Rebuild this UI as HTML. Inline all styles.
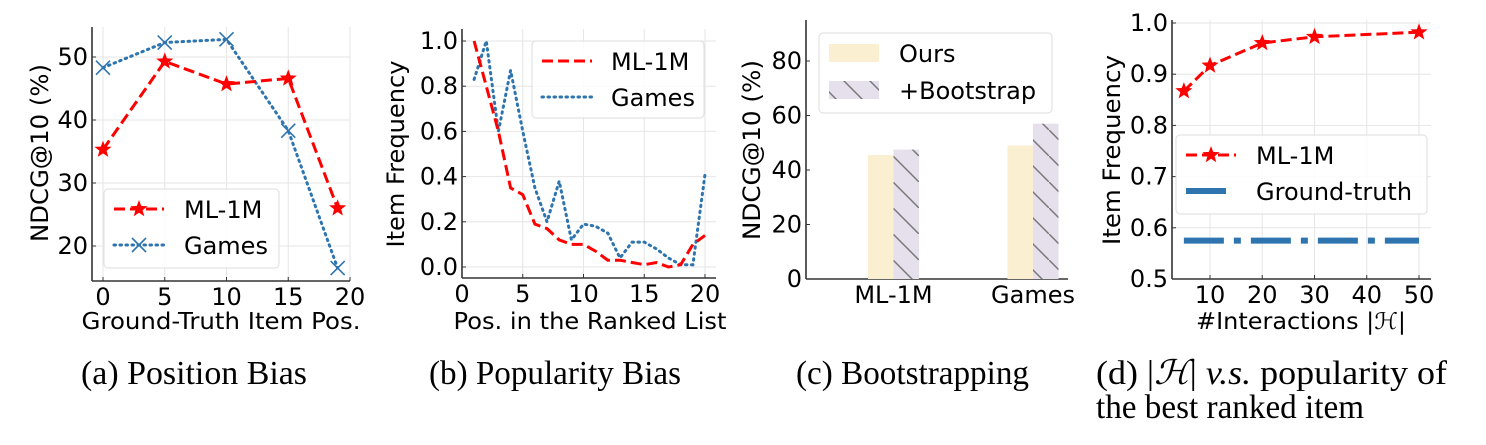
<!DOCTYPE html>
<html><head><meta charset="utf-8"><style>
html,body{margin:0;padding:0;background:#fff;}
svg{display:block;font-family:"DejaVu Sans","Liberation Sans",sans-serif;}
.cap{font-family:"Liberation Serif",serif;font-size:34px;fill:#000;}
</style></head><body>
<svg id="fig" width="1486" height="445" viewBox="0 0 1486 445" xmlns="http://www.w3.org/2000/svg">
<defs>
<pattern id="hatch" patternUnits="userSpaceOnUse" width="26" height="26" patternTransform="translate(893,0)">
<rect width="26" height="26" fill="#e6e0ec"/>
<line x1="0" y1="0" x2="26" y2="26" stroke="#777" stroke-width="1.5"/>
</pattern>
</defs>
<g id="root"></g>
<text class="cap" x="81" y="384" textLength="226" lengthAdjust="spacingAndGlyphs">(a) Position Bias</text>
<text class="cap" x="429" y="384" textLength="252" lengthAdjust="spacingAndGlyphs">(b) Popularity Bias</text>
<text class="cap" x="796" y="384" textLength="233" lengthAdjust="spacingAndGlyphs">(c) Bootstrapping</text>
<text class="cap" x="1096" y="384" textLength="351" lengthAdjust="spacingAndGlyphs">(d) |<tspan font-style="italic">ℋ</tspan>| <tspan font-style="italic">v.s.</tspan>  popularity of</text>
<text class="cap" x="1096" y="418" textLength="268" lengthAdjust="spacingAndGlyphs">the best ranked item</text>
</svg>
<script>
// ---- data ----
const aX = [0,5,10,15,19];
const aML = [35.3,49.3,45.7,46.6,26.0];
const aGames = [48.3,52.3,52.8,38.3,16.5];
const aXTicks = [0,5,10,15,20];
const aYTicks = [20,30,40,50];

const bX = [1,2,3,4,5,6,7,8,9,10,11,12,13,14,15,16,17,18,19,20];
const bML = [1.0,0.8,0.6,0.35,0.32,0.19,0.17,0.12,0.10,0.10,0.07,0.03,0.03,0.02,0.01,0.02,0.0,0.01,0.10,0.14];
const bGames = [0.83,1.0,0.6,0.87,0.6,0.35,0.2,0.38,0.12,0.19,0.18,0.15,0.04,0.11,0.11,0.08,0.04,0.01,0.01,0.41];
const bXTicks = [0,5,10,15,20];
const bYTicks = [0.0,0.2,0.4,0.6,0.8,1.0];

const cCats = ["ML-1M","Games"];
const cOurs = [45.5,49.0];
const cBoot = [47.5,57.0];
const cYTicks = [0,20,40,60,80];

const dX = [5,10,20,30,50];
const dML = [0.867,0.917,0.961,0.973,0.982];
const dGT = 0.575;
const dXTicks = [10,20,30,40,50];
const dYTicks = [0.5,0.6,0.7,0.8,0.9,1.0];

const NS="http://www.w3.org/2000/svg";
const root=document.getElementById('root');
function el(tag,attrs,parent,text){const e=document.createElementNS(NS,tag);for(const k in attrs)e.setAttribute(k,attrs[k]);if(text!==undefined)e.textContent=text;(parent||root).appendChild(e);return e;}
function lin(d0,d1,p0,p1){return v=>p0+(v-d0)*(p1-p0)/(d1-d0);}
function star(cx,cy,r){let p=[];for(let i=0;i<10;i++){const rr=i%2?r*0.42:r;const a=-Math.PI/2+i*Math.PI/5;p.push((cx+rr*Math.cos(a)).toFixed(1)+","+(cy+rr*Math.sin(a)).toFixed(1));}return p.join(" ");}
const RED="#ff0000", BLUE="#2e75b0";

function axes(g,L,R,T,B){
  const a=el('line',{x1:L,y1:T,x2:L,y2:B,stroke:'#333','stroke-width':1.6},g);
  
  
  const b=el('line',{x1:L,y1:B,x2:R,y2:B,stroke:'#333','stroke-width':1.6},g);
  
  
}
function gridV(g,x,T,B){const l=el('line',{x1:x,y1:T,x2:x,y2:B,stroke:'#e6e6e6','stroke-width':1},g);}
function gridH(g,y,L,R){const l=el('line',{x1:L,y1:y,x2:R,y2:y,stroke:'#e6e6e6','stroke-width':1},g);}
function xtick(g,x,B,label){el('line',{x1:x,y1:B,x2:x,y2:B-4,stroke:'#333','stroke-width':1},g);const t=el('text',{x:x,y:B+24,'text-anchor':'middle','font-size':24},g,label);}
function ytick(g,y,L,label){el('line',{x1:L,y1:y,x2:L+4,y2:y,stroke:'#333','stroke-width':1},g);const t=el('text',{x:L-4,y:y+8,'text-anchor':'end','font-size':24},g,label);}
function ylabel(g,x,cy,txt,len){const t=el('text',{x:0,y:0,transform:`translate(${x},${cy}) rotate(-90)`,'text-anchor':'middle','font-size':24,textLength:len,lengthAdjust:'spacingAndGlyphs'},g,txt);}
function xlabel(g,cx,y,txt,len){const t=el('text',{x:cx,y:y,'text-anchor':'middle','font-size':23,textLength:len,lengthAdjust:'spacingAndGlyphs'},g,txt);}
function legendBox(g,x,y,w,h){const r=el('rect',{x:x,y:y,width:w,height:h,rx:4,fill:'#fff','fill-opacity':0.85,stroke:'#ddd','stroke-width':1},g);}
function legText(g,x,y,txt){const t=el('text',{x:x,y:y,'font-size':24},g,txt);}
function poly(g,xs,ys,sx,sy,attrs){return el('polyline',Object.assign({points:xs.map((v,i)=>sx(v).toFixed(1)+","+sy(ys[i]).toFixed(1)).join(" "),fill:'none'},attrs),g);}
function xmark(g,cx,cy,r,color){const p=el('path',{d:`M${cx-r},${cy-r}L${cx+r},${cy+r}M${cx-r},${cy+r}L${cx+r},${cy-r}`,stroke:color,'stroke-width':1.6,fill:'none'},g);}

// ---- chart a ----
{
  const g=el('g',{});
  const L=92,R=350,T=27,B=281;
  const sx=lin(0,20,103,350), sy=lin(20,50,246,57);
  aXTicks.forEach(v=>gridV(g,sx(v),T,B)); aYTicks.forEach(v=>gridH(g,sy(v),L,R));
  axes(g,L,R,T,B);
  aXTicks.forEach(v=>xtick(g,sx(v),B,v)); aYTicks.forEach(v=>ytick(g,sy(v),L,v));
  const lg=poly(g,aX,aGames,sx,sy,{stroke:BLUE,'stroke-width':3,'stroke-dasharray':'1.5 4.5','stroke-linecap':'round'});
  
  aX.forEach((v,i)=>xmark(g,sx(v),sy(aGames[i]),7,BLUE));
  const lm=poly(g,aX,aML,sx,sy,{stroke:RED,'stroke-width':3,'stroke-dasharray':'11 5'});
  
  aX.forEach((v,i)=>{const s=el('polygon',{points:star(sx(v),sy(aML[i]),9),fill:RED},g);});
  ylabel(g,48,153,'NDCG@10 (%)',178); xlabel(g,221,329,'Ground-Truth Item Pos.',279);
  const lgd=el('g',{},g);
  legendBox(lgd,104,189,175,79);
  el('line',{x1:114,y1:209,x2:164,y2:209,stroke:RED,'stroke-width':3,'stroke-dasharray':'11 5'},lgd);
  el('polygon',{points:star(139,209,9),fill:RED},lgd);
  legText(lgd,184,218,'ML-1M');
  el('line',{x1:114,y1:245,x2:164,y2:245,stroke:BLUE,'stroke-width':3,'stroke-dasharray':'1.5 4.5','stroke-linecap':'round'},lgd);
  xmark(lgd,139,245,7,BLUE);
  legText(lgd,184,254,'Games');
}
// ---- chart b ----
{
  const g=el('g',{});
  const L=462,R=716,T=29,B=278;
  const sx=lin(0,20,462,705), sy=lin(0,1,267,41);
  bXTicks.forEach(v=>gridV(g,sx(v),T,B)); bYTicks.forEach(v=>gridH(g,sy(v),L,R));
  axes(g,L,R,T,B);
  bXTicks.forEach(v=>xtick(g,sx(v),B,v)); bYTicks.forEach(v=>ytick(g,sy(v),L,v.toFixed(1)));
  const lg=poly(g,bX,bGames,sx,sy,{stroke:BLUE,'stroke-width':3,'stroke-dasharray':'1.5 4.5','stroke-linecap':'round'});
  
  const lm=poly(g,bX,bML,sx,sy,{stroke:RED,'stroke-width':3,'stroke-dasharray':'11 5'});
  
  ylabel(g,404,154,'Item Frequency',187); xlabel(g,590,329,'Pos. in the Ranked List',273);
  const lgd=el('g',{},g);
  legendBox(lgd,532,41,172,77);
  el('line',{x1:542,y1:61,x2:592,y2:61,stroke:RED,'stroke-width':3,'stroke-dasharray':'11 5'},lgd);
  legText(lgd,611,70,'ML-1M');
  el('line',{x1:542,y1:97,x2:592,y2:97,stroke:BLUE,'stroke-width':3,'stroke-dasharray':'1.5 4.5','stroke-linecap':'round'},lgd);
  legText(lgd,611,106,'Games');
}
// ---- chart c ----
{
  const g=el('g',{});
  const L=806,R=1068,T=20,B=279;
  const sy=lin(0,80,279,61);
  const cx=[893.5,1033]; const bw=25.5;
  axes(g,L,R,T,B);
  cYTicks.forEach(v=>ytick(g,sy(v),L,v));
  cCats.forEach((c,i)=>{
    xtick(g,cx[i],B,c);
    const r1=el('rect',{x:cx[i]-bw,y:sy(cOurs[i]),width:bw,height:B-sy(cOurs[i]),fill:'#faefd1'},g);
    
    const r2=el('rect',{x:cx[i],y:sy(cBoot[i]),width:bw,height:B-sy(cBoot[i]),fill:'url(#hatch)'},g);
    
  });
  ylabel(g,760,150,'NDCG@10 (%)',180);
  const lgd=el('g',{},g);
  legendBox(lgd,819,33,233,80);
  el('rect',{x:829,y:44,width:50,height:18,fill:'#faefd1'},lgd);
  legText(lgd,899,62,'Ours');
  el('rect',{x:829,y:81,width:50,height:18,fill:'url(#hatch)'},lgd);
  legText(lgd,899,99,'+Bootstrap');
}
// ---- chart d ----
{
  const g=el('g',{});
  const L=1172,R=1431,T=20,B=279;
  const sx=lin(10,50,1210,1419), sy=lin(0.5,1.0,279,23);
  dXTicks.forEach(v=>gridV(g,sx(v),T,B)); dYTicks.forEach(v=>gridH(g,sy(v),L,R));
  axes(g,L,R,T,B);
  dXTicks.forEach(v=>xtick(g,sx(v),B,v)); dYTicks.forEach(v=>ytick(g,sy(v),L,v.toFixed(1)));
  const gt=el('line',{x1:sx(dX[0]),y1:sy(dGT),x2:sx(dX[dX.length-1]),y2:sy(dGT),stroke:BLUE,'stroke-width':6,'stroke-dasharray':'40 10 7 10'},g);
  
  const lm=poly(g,dX,dML,sx,sy,{stroke:RED,'stroke-width':3,'stroke-dasharray':'11 5'});
  
  dX.forEach((v,i)=>{const s=el('polygon',{points:star(sx(v),sy(dML[i]),9),fill:RED},g);});
  ylabel(g,1120,150,'Item Frequency',190); xlabel(g,1301,329,'#Interactions |ℋ|',210);
  const lgd=el('g',{},g);
  legendBox(lgd,1176,135,251,79);
  el('line',{x1:1186,y1:155,x2:1236,y2:155,stroke:RED,'stroke-width':3,'stroke-dasharray':'11 5'},lgd);
  el('polygon',{points:star(1211,155,9),fill:RED},lgd);
  legText(lgd,1256,164,'ML-1M');
  el('line',{x1:1186,y1:191,x2:1226,y2:191,stroke:BLUE,'stroke-width':6},lgd);
  legText(lgd,1256,200,'Ground-truth');
}
</script>
</body></html>
